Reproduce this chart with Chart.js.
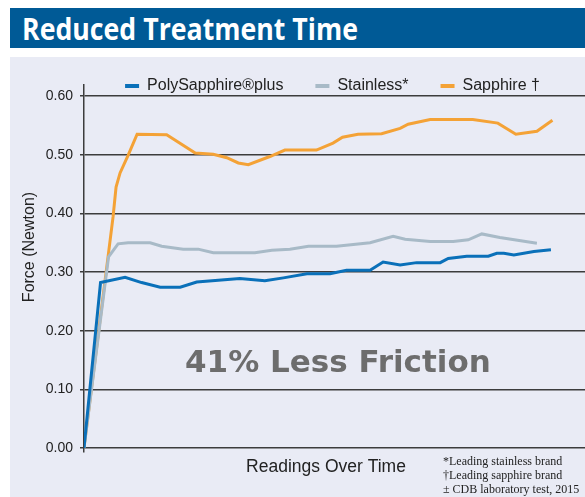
<!DOCTYPE html>
<html>
<head>
<meta charset="utf-8">
<script src="https://cdn.jsdelivr.net/npm/chart.js@4"></script>
<style>
  html, body { margin: 0; padding: 0; background: #fff; }
  body { width: 585px; height: 497px; position: relative; overflow: hidden; }
  #header {
    position: absolute; left: 10px; top: 8px; width: 575px; height: 40px;
    background: #005a96;
  }
  #header span {
    position: absolute; left: 12px; top: 0px;
    font-family: "Open Sans", sans-serif; font-weight: 700; font-size: 30px;
    color: #fff; white-space: nowrap;
    transform: scaleX(0.89); transform-origin: left center;
  }
  #panel {
    position: absolute; left: 10px; top: 57px; width: 575px; height: 440px;
    background: #e9ebf5;
  }
  #chartBox { position: absolute; left: 0; top: 0; width: 575px; height: 440px; }
  #callout {
    position: absolute; left: 175px; top: 286px;
    font-family: "DejaVu Sans", sans-serif; font-weight: 700; font-size: 31px; line-height: 36px;
    color: #6d6d6d; white-space: nowrap;
  }
  #notes {
    position: absolute; left: 433px; top: 397px;
    font-family: "Liberation Serif", serif; font-size: 12px; line-height: 14px;
    color: #222; white-space: nowrap;
  }
</style>
</head>
<body>
<div id="header"><span>Reduced Treatment Time</span></div>
<div id="panel">
  <div id="chartBox"><canvas id="frictionChart"></canvas></div>
  <div id="callout">41% Less Friction</div>
  <div id="notes">*Leading stainless brand<br>†Leading sapphire brand<br>± CDB laboratory test, 2015</div>
</div>

<script>
// readings are on a 0-100 "time" scale, force in Newton
const seriesNames = ['PolySapphire®plus', 'Stainless*', 'Sapphire †'];
const xTitle = 'Readings Over Time';
const yTitle = 'Force (Newton)';

const polyX = [0, 3.3, 8.2, 11.5, 15.2, 19.2, 22.5, 31.1, 36.1, 39.8, 44.5, 49.1, 52.4, 57.1, 59.7, 63.1, 66.4, 71.1, 72.7, 76.4, 80.7, 82.4, 83.8, 85.8, 89.8, 93.2];
const polyY = [0, 0.282, 0.291, 0.282, 0.274, 0.274, 0.283, 0.289, 0.285, 0.290, 0.297, 0.297, 0.303, 0.303, 0.317, 0.312, 0.316, 0.316, 0.323, 0.327, 0.327, 0.332, 0.332, 0.329, 0.335, 0.338];

const stainlessX = [0, 4.9, 6.8, 8.8, 13.2, 15.5, 19.8, 22.8, 25.8, 34.1, 37.5, 41.1, 44.8, 50.4, 57.1, 61.7, 64.1, 69.1, 73.7, 76.7, 79.4, 83.0, 90.4];
const stainlessY = [0, 0.326, 0.348, 0.350, 0.350, 0.344, 0.339, 0.339, 0.333, 0.333, 0.337, 0.339, 0.344, 0.344, 0.350, 0.361, 0.356, 0.352, 0.352, 0.355, 0.365, 0.359, 0.349];

const sapphireX = [0, 5.8, 6.4, 7.2, 8.8, 10.6, 16.5, 22.2, 25.8, 28.5, 30.8, 32.8, 37.1, 40.1, 46.4, 49.7, 51.6, 54.7, 59.4, 63.1, 64.7, 69.1, 77.6, 82.6, 86.2, 90.4, 93.5];
const sapphireY = [0, 0.394, 0.445, 0.469, 0.499, 0.535, 0.534, 0.503, 0.501, 0.495, 0.486, 0.483, 0.497, 0.508, 0.508, 0.520, 0.530, 0.535, 0.536, 0.545, 0.552, 0.560, 0.560, 0.554, 0.535, 0.540, 0.559];

const yTicks = [0, 0.1, 0.2, 0.3, 0.4, 0.5, 0.6];

const colors = ['#0a70b9', '#a8bac7', '#f4a236'];

function toPoints(xs, ys) {
    return xs.map((x, i) => ({ x: x, y: ys[i] }));
}

// pull the legend up into the strip above the plot
const legendLift = {
    id: 'legendLift',
    beforeInit(chart) {
        const fit = chart.legend.fit;
        chart.legend.fit = function () {
            fit.bind(chart.legend)();
            this.height = 28;
        };
    },
    afterLayout(chart) {
        chart.legend.top -= 11;
        chart.legend.bottom += 8;
        chart.legend.left -= 2;
        chart.legend.right -= 2;
    }
};

// axis titles, placed by hand so they sit where the original has them
const axisTitles = {
    id: 'axisTitles',
    afterDraw(chart) {
        const c = chart.ctx;
        const area = chart.chartArea;
        c.save();
        c.fillStyle = '#222';
        c.textAlign = 'center';
        c.textBaseline = 'middle';
        c.font = '17.5px "Liberation Sans"';
        c.fillText(xTitle, 316, area.bottom + 15);
        c.translate(20, 190);
        c.rotate(-Math.PI / 2);
        c.font = '16px "Liberation Sans"';
        c.fillText(yTitle, 0, 0);
        c.restore();
    }
};

const ctx = document.getElementById('frictionChart').getContext('2d');
new Chart(ctx, {
    type: 'line',
    data: {
        datasets: [
            { label: seriesNames[0], data: toPoints(polyX, polyY) },
            { label: seriesNames[1], data: toPoints(stainlessX, stainlessY) },
            { label: seriesNames[2], data: toPoints(sapphireX, sapphireY) }
        ].map((d, i) => Object.assign(d, {
            borderColor: colors[i],
            backgroundColor: colors[i],
            borderWidth: 3,
            pointRadius: 0,
            tension: 0,
            fill: false
        }))
    },
    options: {
        responsive: true,
        maintainAspectRatio: false,
        animation: false,
        layout: { padding: { bottom: 45 } },
        plugins: {
            tooltip: { enabled: false },
            legend: {
                position: 'top',
                fullSize: false,
                labels: {
                    boxWidth: 14,
                    boxHeight: 4,
                    padding: 32,
                    color: '#222',
                    font: { family: 'Liberation Sans', size: 16 },
                    generateLabels(chart) {
                        return Chart.defaults.plugins.legend.labels.generateLabels(chart)
                            .map(l => Object.assign(l, { lineWidth: 0 }));
                    }
                }
            }
        },
        scales: {
            x: {
                type: 'linear',
                min: 0,
                max: 100,
                afterFit(scale) { scale.height = 0; },
                grid: { display: false },
                border: { display: false },
                ticks: { display: false }
            },
            y: {
                min: -0.007,
                max: 0.619,
                afterFit(scale) { scale.width = 74; },
                afterBuildTicks(scale) { scale.ticks = yTicks.map(v => ({ value: v })); },
                ticks: {
                    padding: 7,
                    color: '#222',
                    font: { family: 'Liberation Sans', size: 14 },
                    callback: v => v.toFixed(2)
                },
                grid: { color: '#3c3c3c', lineWidth: 1.5, tickLength: 4 },
                border: { color: '#3c3c3c', width: 1.5 }
            }
        }
    },
    plugins: [legendLift, axisTitles]
});
</script>
</body>
</html>
